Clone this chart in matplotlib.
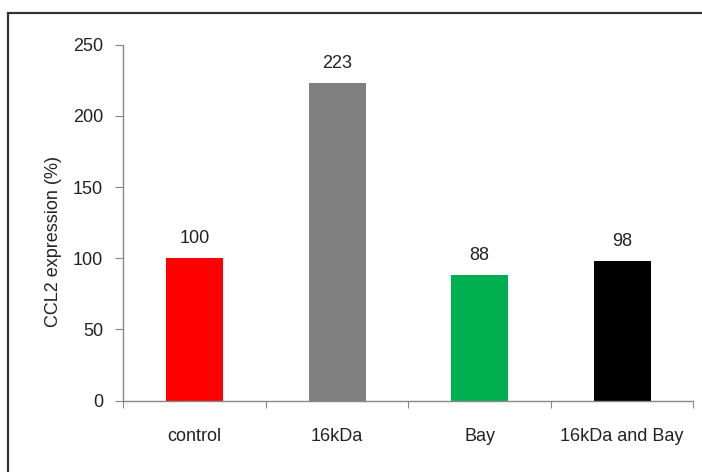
import matplotlib
matplotlib.use("Agg")
import matplotlib.pyplot as plt
from matplotlib.patches import Rectangle
import numpy as np

categories = ["control", "16kDa", "Bay", "16kDa and Bay"]
values = [100, 223, 88, 98]
value_labels = ["100", "223", "88", "98"]
colors = ["#FF0000", "#808080", "#00B050", "#000000"]
yticks = [0, 50, 100, 150, 200, 250]

plt.rcParams['font.family'] = ['Liberation Sans', 'DejaVu Sans']
FS = 13

fig = plt.figure(figsize=(7.02, 4.72), dpi=100)
ax = fig.add_axes([123.3/702, 1-400.7/472, (693.3-123.3)/702, (400.7-44.7)/472])

x = np.arange(len(categories))
ax.bar(x, values, width=0.4, color=colors)
ax.set_xlim(-0.5, len(categories) - 0.5)
ax.set_ylim(0, 250)
ax.set_yticks(yticks)
ax.set_yticklabels([str(t) for t in yticks], fontsize=FS, color="#222222")

ax.set_xticks(np.arange(len(categories) + 1) - 0.5)
ax.set_xticklabels([])
ax.set_xticks(x, minor=True)
ax.set_xticklabels(categories, minor=True, fontsize=FS, color="#222222")
ax.tick_params(axis='x', which='minor', length=0, pad=20)
ax.tick_params(axis='x', which='major', length=5, color="#888888", direction='out')
ax.tick_params(axis='y', length=6, color="#888888", direction='out', pad=8.5)

for s in ["top", "right"]:
    ax.spines[s].set_visible(False)
for s in ["left", "bottom"]:
    ax.spines[s].set_color("#888888")
    ax.spines[s].set_linewidth(1.0)

for xi, v, lab in zip(x, values, value_labels):
    ax.annotate(lab, (xi, v), xytext=(0, 10.8), textcoords="offset points",
                ha="center", va="baseline", fontsize=FS, color="#222222")

ax.set_ylabel("CCL2 expression (%)", fontsize=FS, color="#222222")
ax.yaxis.set_label_coords(-0.108, 0.447)

fig.patches.append(Rectangle((8/702, -0.1), 1.2, 1 - 13/472 + 0.1,
                             transform=fig.transFigure, fill=False,
                             edgecolor="#333333", linewidth=1.6, clip_on=False))

fig.savefig("out.png", dpi=100)
